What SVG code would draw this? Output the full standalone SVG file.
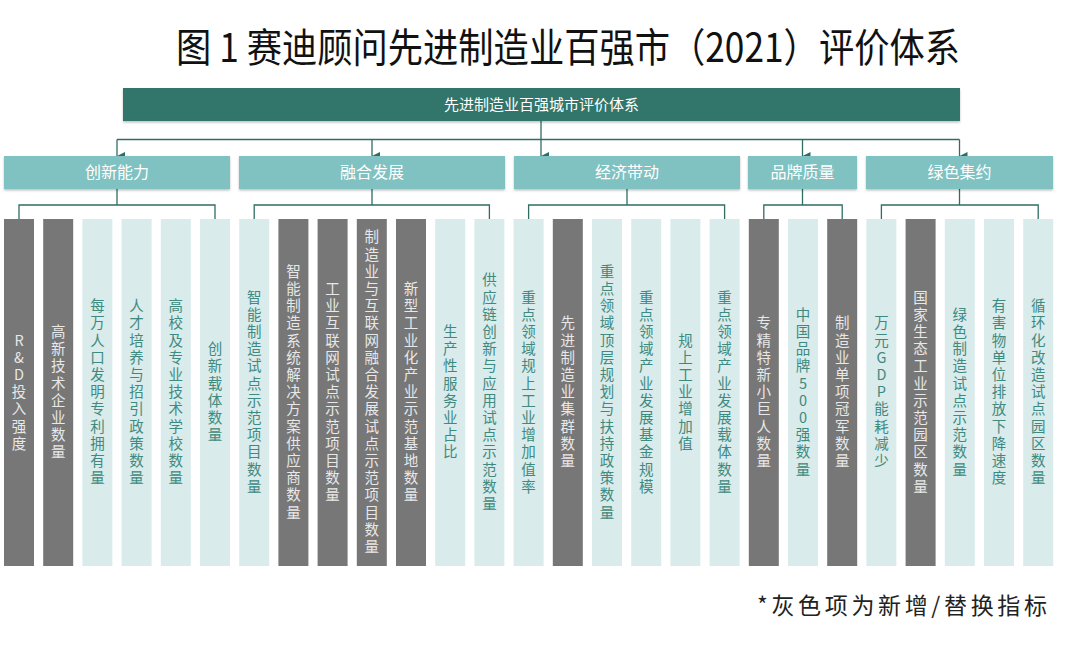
<svg xmlns="http://www.w3.org/2000/svg" width="1080" height="649" viewBox="0 0 1080 649">
<style>
.t{font-family:"Noto Sans CJK SC","Liberation Sans",sans-serif}
.title{font-size:40px;fill:#111}
.top{fill:#33756a}
.cat{fill:#80c1c1}
.toptxt{font-size:15px;fill:#fff}
.cattxt{font-size:16px;fill:#fff}
.dk{fill:#777777}
.lt{fill:#d9ebeb}
.v{font-size:14.5px;writing-mode:vertical-rl;text-orientation:upright;letter-spacing:2.7px;text-anchor:middle}
.vd{fill:#e8e8e8}
.vl{fill:#3f8a80}
.ln{fill:none;stroke:#2f6e64;stroke-width:1.3}
.foot{font-size:23px;fill:#222}
</style>
<defs>
<marker id="ar" viewBox="0 0 8 8" refX="4" refY="8" markerWidth="8" markerHeight="8" markerUnits="userSpaceOnUse" orient="auto-start-reverse">
<path d="M0,0 L8,0 L4,8 Z" fill="#2f6e64"/>
</marker>
<filter id="sh" x="-5%" y="-20%" width="110%" height="150%">
<feDropShadow dx="0" dy="1.5" stdDeviation="1.2" flood-color="#000" flood-opacity="0.25"/>
</filter>
</defs>
<rect width="1080" height="649" fill="#ffffff"/>
<text id="title" class="t title" x="176" y="62" textLength="784" lengthAdjust="spacingAndGlyphs">图 1 赛迪顾问先进制造业百强市（2021）评价体系</text>

<g id="connectors">
<path class="ln" d="M541,121 V139.5 M117,139.5 H959.5"/>
<path class="ln" d="M117,139.5 V156" marker-end="url(#ar)"/>
<path class="ln" d="M372,139.5 V156" marker-end="url(#ar)"/>
<path class="ln" d="M541,139.5 V156" marker-end="url(#ar)"/>
<path class="ln" d="M802.5,139.5 V156" marker-end="url(#ar)"/>
<path class="ln" d="M959.5,139.5 V156" marker-end="url(#ar)"/>
<path class="ln" d="M117,189 V205 M19,219 V205 H215 V219"/>
<path class="ln" d="M372,189 V205 M254.2,219 V205 H489.4 V219"/>
<path class="ln" d="M627,189 V205 M528.6,219 V205 H724.6 V219"/>
<path class="ln" d="M802.5,189 V205 M763.8,219 V205 H842.2 V219"/>
<path class="ln" d="M959.5,189 V205 M881.4,219 V205 H1038.2 V219"/>
</g>

<g id="root">
<rect class="top" x="123" y="88" width="837" height="33" filter="url(#sh)"/>
<text class="t toptxt" x="541.5" y="110" text-anchor="middle">先进制造业百强城市评价体系</text>
</g>

<g id="cat-innovation"><rect class="cat" x="4" y="156" width="226" height="33" filter="url(#sh)"/><text class="t cattxt" x="117" y="178" text-anchor="middle">创新能力</text></g>
<g id="cat-fusion"><rect class="cat" x="239" y="156" width="266" height="33" filter="url(#sh)"/><text class="t cattxt" x="372" y="178" text-anchor="middle">融合发展</text></g>
<g id="cat-economy"><rect class="cat" x="514" y="156" width="226" height="33" filter="url(#sh)"/><text class="t cattxt" x="627" y="178" text-anchor="middle">经济带动</text></g>
<g id="cat-brand"><rect class="cat" x="748" y="156" width="109" height="33" filter="url(#sh)"/><text class="t cattxt" x="802.5" y="178" text-anchor="middle">品牌质量</text></g>
<g id="cat-green"><rect class="cat" x="866" y="156" width="187" height="33" filter="url(#sh)"/><text class="t cattxt" x="959.5" y="178" text-anchor="middle">绿色集约</text></g>

<g id="leaf0"><rect class="dk" x="4" y="219" width="30" height="347"/><text class="t v vd" x="19" y="393">R&amp;D投入强度</text></g>
<g id="leaf1"><rect class="dk" x="43.2" y="219" width="30" height="347"/><text class="t v vd" x="58.2" y="393">高新技术企业数量</text></g>
<g id="leaf2"><rect class="lt" x="82.4" y="219" width="30" height="347"/><text class="t v vl" x="97.4" y="393">每万人口发明专利拥有量</text></g>
<g id="leaf3"><rect class="lt" x="121.6" y="219" width="30" height="347"/><text class="t v vl" x="136.6" y="393">人才培养与招引政策数量</text></g>
<g id="leaf4"><rect class="lt" x="160.8" y="219" width="30" height="347"/><text class="t v vl" x="175.8" y="393">高校及专业技术学校数量</text></g>
<g id="leaf5"><rect class="lt" x="200" y="219" width="30" height="347"/><text class="t v vl" x="215" y="393">创新载体数量</text></g>

<g id="leaf6"><rect class="lt" x="239.2" y="219" width="30" height="347"/><text class="t v vl" x="254.2" y="393">智能制造试点示范项目数量</text></g>
<g id="leaf7"><rect class="dk" x="278.4" y="219" width="30" height="347"/><text class="t v vd" x="293.4" y="393">智能制造系统解决方案供应商数量</text></g>
<g id="leaf8"><rect class="dk" x="317.6" y="219" width="30" height="347"/><text class="t v vd" x="332.6" y="393">工业互联网试点示范项目数量</text></g>
<g id="leaf9"><rect class="dk" x="356.8" y="219" width="30" height="347"/><text class="t v vd" x="371.8" y="393">制造业与互联网融合发展试点示范项目数量</text></g>
<g id="leaf10"><rect class="dk" x="396" y="219" width="30" height="347"/><text class="t v vd" x="411" y="393">新型工业化产业示范基地数量</text></g>
<g id="leaf11"><rect class="lt" x="435.2" y="219" width="30" height="347"/><text class="t v vl" x="450.2" y="393">生产性服务业占比</text></g>
<g id="leaf12"><rect class="lt" x="474.4" y="219" width="30" height="347"/><text class="t v vl" x="489.4" y="393">供应链创新与应用试点示范数量</text></g>

<g id="leaf13"><rect class="lt" x="513.6" y="219" width="30" height="347"/><text class="t v vl" x="528.6" y="393">重点领域规上工业增加值率</text></g>
<g id="leaf14"><rect class="dk" x="552.8" y="219" width="30" height="347"/><text class="t v vd" x="567.8" y="393">先进制造业集群数量</text></g>
<g id="leaf15"><rect class="lt" x="592" y="219" width="30" height="347"/><text class="t v vl" x="607" y="393">重点领域顶层规划与扶持政策数量</text></g>
<g id="leaf16"><rect class="lt" x="631.2" y="219" width="30" height="347"/><text class="t v vl" x="646.2" y="393">重点领域产业发展基金规模</text></g>
<g id="leaf17"><rect class="lt" x="670.4" y="219" width="30" height="347"/><text class="t v vl" x="685.4" y="393">规上工业增加值</text></g>
<g id="leaf18"><rect class="lt" x="709.6" y="219" width="30" height="347"/><text class="t v vl" x="724.6" y="393">重点领域产业发展载体数量</text></g>

<g id="leaf19"><rect class="dk" x="748.8" y="219" width="30" height="347"/><text class="t v vd" x="763.8" y="393">专精特新小巨人数量</text></g>
<g id="leaf20"><rect class="lt" x="788" y="219" width="30" height="347"/><text class="t v vl" x="803" y="393">中国品牌500强数量</text></g>
<g id="leaf21"><rect class="dk" x="827.2" y="219" width="30" height="347"/><text class="t v vd" x="842.2" y="393">制造业单项冠军数量</text></g>

<g id="leaf22"><rect class="lt" x="866.4" y="219" width="30" height="347"/><text class="t v vl" x="881.4" y="393">万元GDP能耗减少</text></g>
<g id="leaf23"><rect class="dk" x="905.6" y="219" width="30" height="347"/><text class="t v vd" x="920.6" y="393">国家生态工业示范园区数量</text></g>
<g id="leaf24"><rect class="lt" x="944.8" y="219" width="30" height="347"/><text class="t v vl" x="959.8" y="393">绿色制造试点示范数量</text></g>
<g id="leaf25"><rect class="lt" x="984" y="219" width="30" height="347"/><text class="t v vl" x="999" y="393">有害物单位排放下降速度</text></g>
<g id="leaf26"><rect class="lt" x="1023.2" y="219" width="30" height="347"/><text class="t v vl" x="1038.2" y="393">循环化改造试点园区数量</text></g>

<text id="note" class="t foot" x="757" y="614" textLength="290" lengthAdjust="spacing">*灰色项为新增/替换指标</text>
</svg>
